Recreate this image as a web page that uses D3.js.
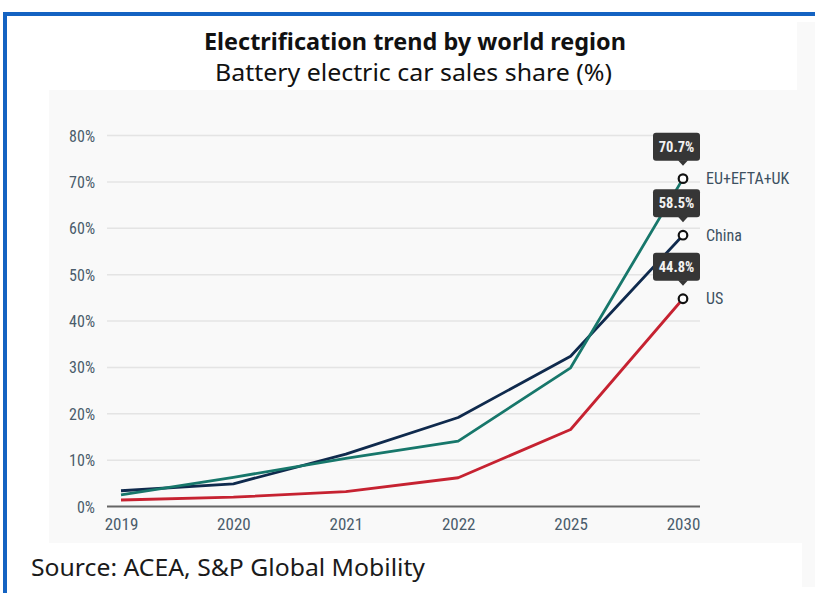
<!DOCTYPE html>
<html>
<head>
<meta charset="utf-8">
<script src="https://cdn.jsdelivr.net/npm/d3@7/dist/d3.min.js"></script>
<style>
  html, body { margin: 0; padding: 0; background: #fff; }
  svg { display: block; }
</style>
</head>
<body>
<svg id="chart" width="815" height="593"></svg>
<script>
// ---- data ----
const years = ["2019", "2020", "2021", "2022", "2025", "2030"];
const euValues = [2.5, 6.3, 10.4, 14.1, 29.9, 70.7];
const chinaValues = [3.4, 4.9, 11.3, 19.2, 32.4, 58.5];
const usValues = [1.4, 2.0, 3.2, 6.2, 16.6, 44.8];
const seriesNames = ["China", "EU+EFTA+UK", "US"];
const yTicks = [0, 10, 20, 30, 40, 50, 60, 70, 80];
const titleText = "Electrification trend by world region";
const subtitleText = "Battery electric car sales share (%)";
const sourceText = "Source: ACEA, S&P Global Mobility";

const series = [
  { name: seriesNames[0], values: chinaValues, color: "#0f2a4d" },
  { name: seriesNames[1], values: euValues, color: "#17776b" },
  { name: seriesNames[2], values: usValues, color: "#c62231" }
];

const svg = d3.select("#chart");
const condensed = "'Roboto Condensed', 'Liberation Sans Narrow', 'DejaVu Sans Condensed', Roboto, sans-serif";

// ---- backgrounds / frame ----
svg.append("rect").attr("x", 49).attr("y", 90).attr("width", 766).attr("height", 453).attr("fill", "#f9f9f9");
svg.append("rect").attr("x", 797).attr("y", 22).attr("width", 18).attr("height", 68).attr("fill", "#f9f9f9");
svg.append("rect").attr("x", 802).attr("y", 543).attr("width", 13).attr("height", 44).attr("fill", "#f9f9f9");
svg.append("rect").attr("x", 3).attr("y", 12).attr("width", 812).attr("height", 4).attr("fill", "#1463c2");
svg.append("rect").attr("x", 3).attr("y", 12).attr("width", 4).attr("height", 581).attr("fill", "#1463c2");

// ---- titles ----
svg.append("text").attr("x", 415).attr("y", 50).attr("text-anchor", "middle")
  .attr("font-family", "'Noto Sans', sans-serif").attr("font-weight", 700).attr("font-size", 23)
  .attr("fill", "#111").attr("textLength", 422).attr("lengthAdjust", "spacingAndGlyphs").text(titleText);
svg.append("text").attr("x", 413.5).attr("y", 81).attr("text-anchor", "middle")
  .attr("font-family", "'Noto Sans', sans-serif").attr("font-weight", 400).attr("font-size", 23)
  .attr("fill", "#111").attr("textLength", 397).attr("lengthAdjust", "spacingAndGlyphs").text(subtitleText);
svg.append("text").attr("x", 31).attr("y", 576).attr("text-anchor", "start")
  .attr("font-family", "'Noto Sans', sans-serif").attr("font-weight", 400).attr("font-size", 23)
  .attr("fill", "#1a1a1a").attr("textLength", 394).attr("lengthAdjust", "spacingAndGlyphs").text(sourceText);

// ---- scales ----
const x = d3.scalePoint().domain(years).range([121, 683]);
const y = d3.scaleLinear().domain([0, 80]).range([506.5, 135.5]);
const gridLeft = 107, gridRight = 700;

// gridlines
svg.append("g").selectAll("line").data(yTicks.filter(d => d > 0)).join("line")
  .attr("x1", gridLeft).attr("x2", gridRight)
  .attr("y1", d => y(d)).attr("y2", d => y(d))
  .attr("stroke", "#e4e4e4").attr("stroke-width", 1.5);

// y axis labels
const yAxis = d3.axisLeft(y).tickValues(yTicks).tickFormat(d => d + "%").tickSize(0).tickPadding(0);
const gy = svg.append("g").attr("transform", `translate(95,0)`).call(yAxis);
gy.select(".domain").remove();
gy.selectAll("text").attr("font-family", condensed).attr("font-size", 16).attr("fill", "#4a5c6b")
  .attr("x", 0).attr("dy", "0.35em");

// x axis
const xAxis = d3.axisBottom(x).tickSize(0).tickPadding(0);
const gx = svg.append("g").attr("transform", `translate(0,506.5)`).call(xAxis);
gx.select(".domain").remove();
gx.selectAll("text").attr("font-family", condensed).attr("font-size", 17).attr("fill", "#4a5c6b")
  .attr("y", 23).attr("dy", 0);
svg.append("line").attr("x1", gridLeft).attr("x2", gridRight).attr("y1", y(0)).attr("y2", y(0))
  .attr("stroke", "#666").attr("stroke-width", 2);

// ---- lines ----
const line = d3.line().x((d, i) => x(years[i])).y(d => y(d));
svg.append("g").selectAll("path").data(series).join("path")
  .attr("d", d => line(d.values))
  .attr("fill", "none").attr("stroke", d => d.color).attr("stroke-width", 2.8)
  .attr("stroke-linejoin", "round");

// ---- end markers, tooltips, labels ----
const last = years.length - 1;
series.forEach(s => {
  const cx = x(years[last]);
  const cy = y(s.values[last]);
  const g = svg.append("g");
  g.append("rect").attr("x", cx - 30).attr("y", cy - 46).attr("width", 47).attr("height", 28)
    .attr("rx", 3).attr("fill", "#363636");
  g.append("path").attr("d", `M${cx - 5},${cy - 18.5}L${cx + 5},${cy - 18.5}L${cx},${cy - 13}Z`).attr("fill", "#363636");
  g.append("text").attr("x", cx - 6.5).attr("y", cy - 32).attr("dy", "0.35em")
    .attr("text-anchor", "middle").attr("font-family", condensed).attr("font-weight", 700)
    .attr("font-size", 14.5).attr("fill", "#f2f2f2").text(s.values[last].toFixed(1) + "%");
  g.append("circle").attr("cx", cx).attr("cy", cy).attr("r", 4.3)
    .attr("fill", "#fff").attr("stroke", "#111").attr("stroke-width", 2.2);
  g.append("text").attr("x", cx + 23).attr("y", cy).attr("dy", "0.35em")
    .attr("font-family", condensed).attr("font-size", 16).attr("fill", "#3d5162").text(s.name);
});
</script>
</body>
</html>
